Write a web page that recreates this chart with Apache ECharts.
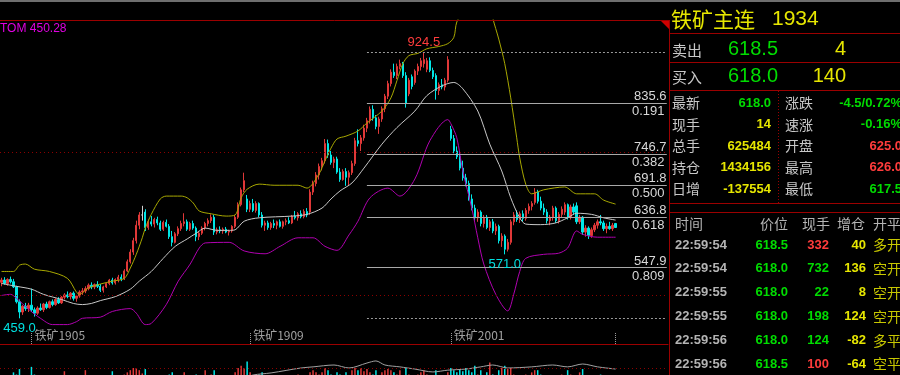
<!DOCTYPE html>
<html><head><meta charset="utf-8">
<script src="https://cdn.jsdelivr.net/npm/echarts/dist/echarts.min.js"></script>
<style>html,body{margin:0;padding:0;background:#000;overflow:hidden}#c{width:900px;height:375px;}</style>
</head><body><div id="c"></div>
<script>
// ---------- DATA ----------
// daily candles [open, high, low, close] of the iron-ore main continuous contract
const candleOHLC = [
[522,530,515,526],[526,531,518,520],[520,529,516,527],[527,532,520,523],[523,528,512,514],
[514,516,485,488],[488,492,459,470],[470,482,465,480],[480,486,472,476],[476,486,470,482],
[482,511,470,474],[474,478,462,468],[468,480,465,477],[477,485,472,474],[474,486,470,484],
[484,488,475,478],[478,490,476,488],[488,492,480,483],[483,494,481,492],[492,496,484,486],
[486,498,484,496],[496,503,492,500],[500,506,494,497],[497,505,492,503],[503,506,490,494],
[494,500,488,498],[498,508,495,505],[505,512,500,507],[507,515,503,511],[511,520,508,517],
[517,522,510,514],[514,520,510,518],[518,524,512,515],[515,519,505,508],[508,516,504,514],
[514,522,512,520],[520,528,517,526],[526,530,518,521],[521,529,518,527],[527,535,522,531],
[531,536,524,528],[528,545,526,542],[542,562,540,558],[558,580,555,575],[575,600,570,595],
[595,630,590,622],[622,645,615,640],[640,656,630,640],[645,650,612,618],[618,632,614,628],
[628,638,620,624],[624,635,618,632],[632,637,622,626],[626,630,612,615],[615,630,612,627],
[627,632,618,620],[620,624,598,602],[602,612,585,592],[592,610,590,607],[607,620,603,616],
[616,630,612,625],[625,643,620,628],[628,632,612,615],[615,628,612,625],[625,630,614,617],
[617,620,594,602],[602,612,596,608],[608,620,605,617],[617,628,613,625],[625,634,620,630],
[630,641,626,636],[636,640,605,610],[610,618,606,614],[614,620,608,612],[612,618,607,615],
[615,619,608,610],[610,614,604,612],[612,622,609,620],[620,640,617,636],[636,662,633,658],
[658,688,655,684],[684,714,680,700],[668,675,645,650],[650,665,645,660],[660,668,645,648],
[648,664,644,660],[660,662,636,640],[640,645,618,622],[622,630,612,626],[626,630,614,618],
[618,628,614,625],[625,632,617,622],[622,630,615,628],[628,632,618,620],[620,630,616,628],
[628,634,622,630],[630,636,624,626],[626,640,624,638],[638,647,632,635],[635,645,630,642],
[642,648,634,637],[637,650,634,646],[646,652,636,640],[645,685,640,680],[680,700,675,695],
[695,715,690,710],[710,730,702,725],[725,740,718,735],[735,773,730,765],[765,772,740,745],
[745,752,728,732],[732,742,722,738],[738,742,712,715],[715,722,698,702],[702,720,700,716],
[716,722,691,706],[706,718,692,714],[714,735,710,730],[730,775,726,770],[770,790,760,765],
[765,780,752,775],[775,798,770,792],[792,810,785,805],[805,830,800,825],[825,832,805,810],
[810,815,790,795],[795,812,782,808],[808,830,803,826],[826,852,820,848],[848,875,843,870],
[870,895,865,890],[890,905,880,884],[884,905,878,900],[900,912,895,905],[905,908,880,884],
[884,890,828,835],[852,880,848,876],[882,886,860,865],[872,895,868,892],[892,905,885,900],
[900,915,893,910],[905,924.5,898,912],[895,915,890,910],[910,916,890,893],[893,898,878,882],
[884,888,842,858],[858,872,850,868],[868,878,860,864],[864,880,858,876],[876,918,872,912],
[790,796,770,774],[774,780,748,752],[752,760,738,742],[742,750,718,722],[722,735,700,705],
[705,712,690,695],[695,700,665,668],[668,676,648,652],[652,658,630,635],[635,650,628,645],
[645,648,620,625],[625,640,618,636],[636,640,615,618],[618,632,612,628],[628,633,608,612],
[612,625,605,620],[620,623,590,595],[595,608,584,603],[603,606,571,580],[580,598,576,592],
[592,632,588,628],[628,645,622,640],[640,648,628,632],[632,646,626,642],[642,648,628,634],
[634,652,630,648],[648,660,642,655],[655,664,648,660],[662,687,658,680],[680,684,660,664],
[664,672,648,652],[652,660,640,645],[645,650,625,630],[630,640,622,636],[636,656,630,652],
[652,655,626,630],[630,645,625,641],[641,655,636,650],[645,662,640,658],[658,660,632,636],
[636,658,632,654],[654,660,640,645],[656,662,624,628],[628,640,624,636],[636,638,605,610],
[610,622,602,617],[617,620,598,604],[604,618,600,614],[614,626,610,622],[622,632,616,628],
[628,640,622,626],[626,630,612,616],[616,625,608,620],[620,628,614,616],[616,626,612,622],
[625,626,617.5,618]
];
// volume (relative units, only the tallest bars show in the cut-off lower pane)
const volume = [
70,68,72,66,76,74,79,70,65,68, 81,74,66,64,70,62,68,60,66,63,
70,77,64,68,72,66,70,68,78,72, 64,66,62,70,64,68,72,77,66,70,
68,74,76,78,80,80,78,75,79,72, 70,68,66,70,72,66,74,76,68,70,
72,76,70,66,68,74,70,72,78,70, 74,78,68,64,66,62,64,70,76,80,
82,80,86,76,72,70,74,76,70,68, 66,70,64,68,70,66,72,68,70,74,
70,72,68,76,78,76,74,76,80,78, 74,72,76,74,70,76,72,78,80,78,
80,77,79,76,74,78,72,76,78,79, 78,76,74,78,72,80,74,70,72,74,
76,78,74,72,70,78,70,68,72,76, 80,78,76,79,77,80,78,76,82,74,
78,72,76,85,74,72,78,80,82,79, 80,74,72,70,72,74,72,76,78,78,
74,72,70,68,72,70,68,74,72,78, 74,70,72,76,79,72,70,68,70,72,
74,70,68,72,70,66
];
// Bollinger bands: [day index, value]
const upperBand = [[0,541],[4,541],[6,552],[8,554],[11,545],[16,541],[22,529],[25,505],[26,501],[29,512],[33,519],[37,524],[41,529],[43,547],[45,571],[47,600],[48,617],[50,641],[53,668],[55,673],[60,673],[62,670],[64,661],[66,647],[70,642],[75,638],[78,640],[80,670],[82,685],[86,694],[91,692],[99,692],[102,687],[106,712],[108,735],[110,757],[112,773],[115,778],[119,787],[122,801],[127,822],[130,845],[132,875],[134,905],[136,919],[139,923],[142,931],[146,935],[149,940],[151,951],[152,978],[155,1005],[159,1044],[161,1046],[163,1015],[164,985],[166,948],[168,905],[170,845],[172,775],[173,740],[175,694],[177,677],[181,684],[188,689],[192,677],[198,677],[201,666],[205,659]];
const middleBand = [[0,520],[5,515],[10,510],[14,501],[20,492],[24,485],[27,483],[30,485],[33,490],[38,497],[43,510],[46,524],[50,541],[54,564],[58,585],[62,598],[65,608],[68,617],[72,613],[76,613],[78,614],[81,629],[86,635],[97,638],[102,641],[107,652],[110,668],[113,682],[117,696],[121,722],[127,764],[132,793],[138,822],[142,849],[147,866],[151,872],[154,861],[159,822],[163,764],[167,717],[170,670],[173,635],[175,624],[180,623],[185,626],[189,635],[192,643],[197,641],[201,635],[205,631]];
const lowerBand = [[0,499],[3,501],[5,494],[9,475],[13,459],[17,448],[22,448],[25,453],[27,459],[33,461],[37,471],[43,476],[45,468],[48,448],[50,450],[55,483],[59,524],[63,554],[66,582],[68,591],[76,592],[81,577],[88,572],[93,585],[99,600],[104,600],[108,585],[112,578],[116,605],[119,629],[123,670],[129,687],[133,673],[138,703],[143,770],[149,807],[150,800],[152,775],[154,717],[157,652],[159,600],[161,554],[165,501],[169,472],[171,501],[173,541],[175,564],[181,571],[186,573],[189,582],[192,612],[194,606],[199,601],[205,601]];
const volumeLine = [[60,60],[70,64],[80,70],[84,73.6],[90,75.5],[100,80],[104,81],[111,82.7],[116,80],[122,84.5],[125,86.4],[128,82.7],[133,81],[138,79],[144,76.4],[149,78],[155,79],[160,81],[164,82.7],[169,80],[177,81],[184,82.7],[189,81],[194,83.6],[199,81],[205,79]];
// contract roll labels
const rollIndex = [10, 83, 150];
const rollNames = ['铁矿1905', '铁矿1909', '铁矿2001'];
// Fibonacci levels
const fibStart = 122;
const fibHigh = 924.5, fibLow = 459.0;
const fibValues = [835.6, 746.7, 691.8, 636.8, 547.9];
const fibRatios = ['0.191', '0.382', '0.500', '0.618', '0.809'];
const gridLevels = [500, 750];
const volGridLevel = 80;
const extremes = [{idx:141, val:924.5, text:'924.5', pos:'top', color:'#ff3c3c'},
                  {idx:168, val:571.0, text:'571.0', pos:'bottom', color:'#00e0e0'},
                  {idx:6, val:459.0, text:'459.0', pos:'bottom', color:'#00e0e0'}];
// right panel
const title = ['铁矿主连', '1934'];
const bidAsk = [['卖出', '618.5', '4'], ['买入', '618.0', '140']];
const quoteRows = [
  ['最新','618.0','#00dc00','涨跌','-4.5/0.72%','#00dc00'],
  ['现手','14','#e6e600','速涨','-0.16%','#00dc00'],
  ['总手','625484','#e6e600','开盘','625.0','#ff3c3c'],
  ['持仓','1434156','#e6e600','最高','626.0','#ff3c3c'],
  ['日增','-137554','#e6e600','最低','617.5','#00dc00']
];
const tickHeader = ['时间','价位','现手','增仓','开平'];
const tickRows = [
  ['22:59:54','618.5','332','#ff3c3c','40','多开'],
  ['22:59:54','618.0','732','#00dc00','136','空开'],
  ['22:59:55','618.0','22','#00dc00','8','空开'],
  ['22:59:55','618.0','198','#00dc00','124','空开'],
  ['22:59:56','618.0','124','#00dc00','-82','多平'],
  ['22:59:56','618.5','100','#ff3c3c','-64','空平']
];
const bollText = 'TOM 450.28';

// ---------- CHART ----------
const N = candleOHLC.length;
const SLOTS = 223;
const categories = Array.from({length: SLOTS}, (_, i) => i < N ? String(i + 1) : '');
const kData = candleOHLC.map(r => [r[0], r[3], r[2], r[1]]);
const UP = '#e03838', DOWN = '#00e6e6';
const volData = volume.map((v, i) => {
  const r = candleOHLC[i];
  return {value: v, itemStyle: {color: r[3] >= r[0] ? UP : DOWN}};
});
const NUMF = '"Liberation Sans", "Noto Sans CJK SC", sans-serif';
const CJKF = '"Noto Sans CJK SC", "Liberation Sans", sans-serif';
const END = SLOTS - 1;

const fibLines = [];
fibValues.forEach((v, k) => {
  const ls = {color: '#a8a8a8', width: 1, type: 'solid'};
  const lab = {color: '#d8d8d8', fontSize: 13, fontFamily: NUMF};
  fibLines.push([{coord: [fibStart, v], lineStyle: ls, label: Object.assign({show: true, position: 'insideEndTop', formatter: v.toFixed(1), distance: 0}, lab)}, {coord: [END, v]}]);
  fibLines.push([{coord: [fibStart, v], lineStyle: ls, label: Object.assign({show: true, position: 'insideEndBottom', formatter: fibRatios[k], distance: 2}, lab)}, {coord: [END, v]}]);
});
[fibHigh, fibLow].forEach(v => {
  fibLines.push([{coord: [fibStart, v], lineStyle: {color: '#9a9a9a', width: 1, type: [2, 2]}, label: {show: false}}, {coord: [END, v]}]);
});
gridLevels.forEach(v => {
  fibLines.push({yAxis: v, lineStyle: {color: '#8c0000', width: 1, type: [1, 3]}, label: {show: false}});
});

function T(x, y, text, fill, size, align, weight, family) {
  align = align || 'left';
  return {type: 'text', x: x, y: y, silent: true, z: 100,
    style: {text: text, fill: fill, font: (weight || 'normal') + ' ' + size + 'px ' + (family || NUMF),
      align: align, verticalAlign: 'middle', textAlign: align, textVerticalAlign: 'middle'}};
}
function L(x1, y1, x2, y2, stroke, dash) {
  return {type: 'line', silent: true, z: 90, shape: {x1: x1, y1: y1, x2: x2, y2: y2},
    style: {stroke: stroke, lineWidth: 1, lineDash: dash || null}};
}
const RED = '#9b0000', YEL = '#e6e600', GRN = '#00dc00', LAB = '#c8c8c8';
const g = [];
g.push({type: 'rect', silent: true, z: 90, shape: {x: 0, y: 0, width: 900, height: 2}, style: {fill: '#6e6e6e'}});
g.push(L(0, 20.5, 669, 20.5, RED));
g.push(L(669.5, 20, 669.5, 375, RED));
g.push({type: 'polygon', silent: true, z: 91, shape: {points: [[661, 21], [669, 21], [669, 29]]}, style: {fill: '#d00000'}});
[33.5, 62.5, 90.5, 203.5, 212.5].forEach(y => g.push(L(670, y, 900, y, RED)));
g.push(L(778.5, 91, 778.5, 203, RED, [1, 2]));
g.push(T(0, 29, bollText, '#e000e0', 12));
g.push(T(671, 19, title[0], YEL, 21, 'left', 'normal', CJKF));
g.push(T(772, 19, title[1], YEL, 21));
bidAsk.forEach((r, k) => {
  const y = 49 + k * 27;
  g.push(T(672, y + 1, r[0], LAB, 15, 'left', 'normal', CJKF));
  g.push(T(728, y, r[1], GRN, 20));
  g.push(T(846, y, r[2], YEL, 20, 'right'));
});
quoteRows.forEach((r, k) => {
  const y = 103 + k * 21.5;
  g.push(T(672, y, r[0], LAB, 14, 'left', 'normal', CJKF));
  g.push(T(771, y, r[1], r[2], 13, 'right', 'bold'));
  g.push(T(785, y, r[3], LAB, 14, 'left', 'normal', CJKF));
  g.push(T(902, y, r[4], r[5], 13, 'right', 'bold'));
});
const hx = [675, 760, 802, 837, 873];
tickHeader.forEach((h, k) => g.push(T(hx[k], 224, h, '#b4b4b4', 14, 'left', 'normal', CJKF)));
tickRows.forEach((r, k) => {
  const y = 245 + k * 23.8;
  g.push(T(675, y, r[0], '#b4b4b4', 13, 'left', 'bold'));
  g.push(T(788, y, r[1], GRN, 13, 'right', 'bold'));
  g.push(T(829, y, r[2], r[3], 13, 'right', 'bold'));
  g.push(T(866, y, r[4], YEL, 13, 'right', 'bold'));
  g.push(T(873, y, r[5], '#c8c800', 14, 'left', 'normal', CJKF));
});

const showIdx = idx => rollIndex.indexOf(idx) >= 0 || idx === N - 1;
const chart = echarts.init(document.getElementById('c'), null, {renderer: 'canvas'});
chart.setOption({
  backgroundColor: '#000',
  animation: false,
  grid: [{left: 0, top: 20, width: 668, height: 324}, {left: 0, top: 346, width: 668, height: 29}],
  xAxis: [
    {type: 'category', gridIndex: 0, data: categories, boundaryGap: true,
      axisLine: {show: true, lineStyle: {color: RED, width: 1}},
      axisTick: {show: true, inside: true, length: 11, alignWithLabel: true, interval: showIdx,
        lineStyle: {color: '#9a9a9a', type: [1, 1]}},
      axisLabel: {show: true, inside: true, interval: showIdx, align: 'left', margin: 3, padding: [0, 0, 0, 3],
        color: '#a0a0a0', fontSize: 12, fontFamily: CJKF,
        formatter: (val, idx) => { const k = rollIndex.indexOf(idx); return k >= 0 ? rollNames[k] : ''; }},
      splitLine: {show: false}},
    {type: 'category', gridIndex: 1, data: categories, boundaryGap: true, show: false}
  ],
  yAxis: [
    {type: 'value', gridIndex: 0, min: 414, max: 981.4, show: false, splitLine: {show: false}},
    {type: 'value', gridIndex: 1, min: 73.6, max: 100, show: false, splitLine: {show: false}}
  ],
  graphic: {elements: g},
  series: [
    {type: 'candlestick', name: 'K', xAxisIndex: 0, yAxisIndex: 0, data: kData, barWidth: 1.8,
      itemStyle: {color: UP, color0: DOWN, borderColor: UP, borderColor0: DOWN, borderColorDoji: '#d0d0d0', borderWidth: 1},
      markPoint: {symbol: 'circle', symbolSize: 1, silent: true, itemStyle: {color: 'rgba(0,0,0,0)'},
        data: extremes.map(e => ({coord: [e.idx, e.val], value: e.text,
          label: {show: true, position: e.pos, distance: 3, color: e.color, fontSize: 13, fontFamily: NUMF, formatter: e.text}}))},
      markLine: {silent: true, symbol: ['none', 'none'], animation: false, data: fibLines}
    },
    {type: 'line', name: 'UP', data: upperBand, smooth: 0.3, showSymbol: false, silent: true,
      lineStyle: {color: '#a8a800', width: 1}},
    {type: 'line', name: 'MID', data: middleBand, smooth: 0.3, showSymbol: false, silent: true,
      lineStyle: {color: '#c8c8c8', width: 1}},
    {type: 'line', name: 'DN', data: lowerBand, smooth: 0.3, showSymbol: false, silent: true,
      lineStyle: {color: '#b000b0', width: 1}},
    {type: 'bar', name: 'VOL', xAxisIndex: 1, yAxisIndex: 1, data: volData, barWidth: 1.5, silent: true,
      markLine: {silent: true, symbol: ['none', 'none'], label: {show: false},
        data: [{yAxis: volGridLevel, lineStyle: {color: '#8c0000', width: 1, type: [1, 3]}}]}},
    {type: 'line', name: 'VMA', xAxisIndex: 1, yAxisIndex: 1, data: volumeLine, smooth: 0.3, showSymbol: false, silent: true,
      lineStyle: {color: '#a0a0a0', width: 1}}
  ]
});
</script></body></html>
